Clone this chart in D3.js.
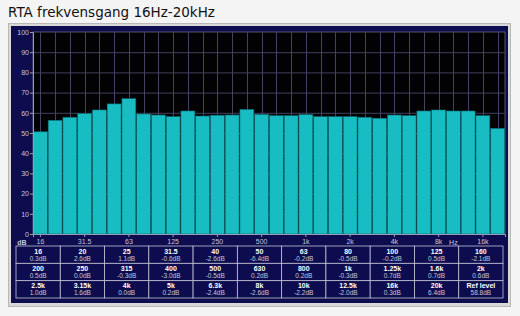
<!DOCTYPE html>
<html>
<head>
<meta charset="utf-8">
<script src="https://cdn.jsdelivr.net/npm/d3@7"></script>
<style>
  body { margin: 0; background: #f4f4f4; }
  svg { display: block; }
</style>
</head>
<body>
<div id="rta"></div>
<script>
// Third-octave bands, 16 Hz - 20 kHz
const bands = ["16", "20", "25", "31.5", "40", "50", "63", "80", "100", "125", "160",
    "200", "250", "315", "400", "500", "630", "800", "1k", "1.25k", "1.6k", "2k",
    "2.5k", "3.15k", "4k", "5k", "6.3k", "8k", "10k", "12.5k", "16k", "20k"];

// Bar level per band (dB)
const levels = [50.6, 56.3, 57.8, 59.6, 61.4, 64.4, 67.0, 59.4, 58.9, 58.1, 60.9,
    58.4, 58.8, 58.9, 61.7, 59.2, 58.6, 58.6, 59.1, 58.1, 58.1, 58.1,
    57.8, 57.3, 58.9, 58.6, 60.9, 61.4, 60.9, 60.9, 58.6, 52.3];

// Table below the chart
const tableHeads = bands.concat(["Ref level"]);
const tableValues = ["0.3dB", "2.6dB", "1.1dB", "-0.6dB", "-2.6dB", "-6.4dB", "-0.2dB", "-0.5dB", "-0.2dB", "0.5dB", "-2.1dB",
    "0.5dB", "0.0dB", "-0.3dB", "-3.0dB", "-0.5dB", "0.2dB", "0.2dB", "-0.3dB", "0.7dB", "0.7dB", "0.6dB",
    "1.0dB", "1.6dB", "0.0dB", "0.2dB", "-2.4dB", "-2.6dB", "-2.2dB", "-2.0dB", "0.3dB", "6.4dB", "58.8dB"];

const yTicks = [0, 10, 20, 30, 40, 50, 60, 70, 80, 90, 100];
const xTickLabels = ["16", "31.5", "63", "125", "250", "500", "1k", "2k", "4k", "8k", "16k"];

const width = 520, height = 316;
const plot = { left: 33, right: 505, top: 32, bottom: 234 };

const svg = d3.select("#rta").append("svg")
    .attr("width", width)
    .attr("height", height);

// Title
svg.append("text")
    .attr("x", 8)
    .attr("y", 17)
    .style("font-family", "DejaVu Sans, Verdana, sans-serif")
    .style("font-size", "13.5px")
    .attr("fill", "#111")
    .text("RTA frekvensgang 16Hz-20kHz");

// Outer frame and navy panel
svg.append("rect")
    .attr("x", 8.5).attr("y", 23.5)
    .attr("width", 502).attr("height", 283)
    .attr("fill", "#d8d8d8")
    .attr("stroke", "#b8b8b8");
svg.append("rect")
    .attr("x", 11).attr("y", 26)
    .attr("width", 497).attr("height", 277)
    .attr("fill", "#0c0c4e");

// Scales
const x = d3.scaleBand()
    .domain(bands)
    .range([plot.left, plot.right])
    .paddingInner(0.06)
    .paddingOuter(0.03);

const y = d3.scaleLinear()
    .domain([0, 100])
    .range([plot.bottom, plot.top]);

// Plot background
svg.append("rect")
    .attr("x", plot.left).attr("y", plot.top)
    .attr("width", plot.right - plot.left)
    .attr("height", plot.bottom - plot.top)
    .attr("fill", "#020204")
    .attr("stroke", "#8a8aa0")
    .attr("stroke-width", 0.6);

// Grid lines
svg.append("g")
    .selectAll("line")
    .data(yTicks.slice(1, -1))
    .join("line")
    .attr("x1", plot.left).attr("x2", plot.right)
    .attr("y1", d => y(d) + 0.5).attr("y2", d => y(d) + 0.5)
    .attr("stroke", "#44425f")
    .attr("stroke-width", 1);

svg.append("g")
    .selectAll("line")
    .data(bands)
    .join("line")
    .attr("x1", d => Math.round(x(d) + x.bandwidth() / 2) + 0.5)
    .attr("x2", d => Math.round(x(d) + x.bandwidth() / 2) + 0.5)
    .attr("y1", plot.top).attr("y2", plot.bottom)
    .attr("stroke", "#44425f")
    .attr("stroke-width", 1);

// Bars
svg.append("g")
    .selectAll("rect")
    .data(levels)
    .join("rect")
    .attr("x", (d, i) => x(bands[i]))
    .attr("y", d => y(d))
    .attr("width", x.bandwidth())
    .attr("height", d => y(0) - y(d))
    .attr("fill", "#17bdc3")
    .attr("stroke", "#0d6e74")
    .attr("stroke-width", 0.6);

// Y axis
const yAxis = svg.append("g")
    .attr("transform", "translate(" + plot.left + ",0)")
    .call(d3.axisLeft(y).tickValues(yTicks).tickSize(3).tickPadding(1));
yAxis.select(".domain").attr("stroke", "#9a9ab8");
yAxis.selectAll(".tick line").attr("stroke", "#9a9ab8");
yAxis.selectAll(".tick text")
    .attr("fill", "#c8c8dc")
    .style("font-family", "Liberation Sans, Arial, sans-serif")
    .style("font-size", "7px");

// X axis ticks and labels
const xAxis = svg.append("g")
    .attr("transform", "translate(0," + plot.bottom + ")")
    .call(d3.axisBottom(x).tickValues(xTickLabels).tickSize(3).tickPadding(2));
xAxis.select(".domain").attr("stroke", "#9a9ab8");
xAxis.selectAll(".tick line").attr("stroke", "#9a9ab8");
xAxis.selectAll(".tick text")
    .attr("fill", "#c8c8dc")
    .style("font-family", "Liberation Sans, Arial, sans-serif")
    .style("font-size", "7px");

svg.append("text")
    .attr("x", 22)
    .attr("y", plot.bottom + 11)
    .attr("text-anchor", "middle")
    .attr("fill", "#c8c8dc")
    .style("font-family", "Liberation Sans, Arial, sans-serif")
    .style("font-size", "7px")
    .style("font-weight", "bold")
    .text("dB");

svg.append("text")
    .attr("x", x("10k") + x.bandwidth() / 2)
    .attr("y", plot.bottom + 11)
    .attr("text-anchor", "middle")
    .attr("fill", "#c8c8dc")
    .style("font-family", "Liberation Sans, Arial, sans-serif")
    .style("font-size", "7px")
    .text("Hz");

// Table of band values
const cols = 11, rows = 3;
const table = { left: 16, top: 246, width: 487, height: 52 };
const cx = d3.scaleBand().domain(d3.range(cols)).range([table.left, table.left + table.width]);
const cy = d3.scaleBand().domain(d3.range(rows)).range([table.top, table.top + table.height]);

const cells = svg.append("g")
    .selectAll("g")
    .data(tableHeads)
    .join("g")
    .attr("transform", (d, i) => "translate(" + cx(i % cols) + "," + cy(Math.floor(i / cols)) + ")");

cells.append("rect")
    .attr("width", cx.bandwidth())
    .attr("height", cy.bandwidth())
    .attr("fill", "#0c0c4e")
    .attr("stroke", "#c4c4d8")
    .attr("stroke-width", 0.8);

cells.append("text")
    .attr("x", cx.bandwidth() / 2)
    .attr("y", 7.5)
    .attr("text-anchor", "middle")
    .attr("fill", "#ffffff")
    .style("font-family", "Liberation Sans, Arial, sans-serif")
    .style("font-size", "7px")
    .style("font-weight", "bold")
    .text(d => d);

cells.append("text")
    .attr("x", cx.bandwidth() / 2)
    .attr("y", 14.5)
    .attr("text-anchor", "middle")
    .attr("fill", "#c8c8dc")
    .style("font-family", "Liberation Sans, Arial, sans-serif")
    .style("font-size", "6.5px")
    .text((d, i) => tableValues[i]);
</script>
</body>
</html>
